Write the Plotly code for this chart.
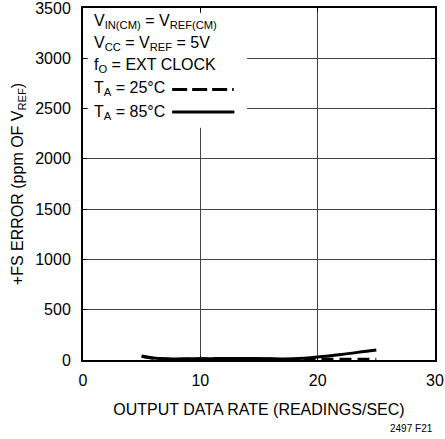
import plotly.graph_objects as go

x_85 = [5, 6, 7, 8, 10, 12, 14, 16, 17, 18, 20, 22, 24, 25]
y_85 = [40, 20, 12, 10, 12, 15, 15, 12, 10, 12, 30, 55, 85, 100]
x_25 = [5, 6, 7, 8, 10, 12, 14, 16, 17, 18, 20, 22, 24, 25]
y_25 = [38, 18, 10, 8, 10, 12, 12, 10, 8, 8, 8, 8, 8, 8]

x_ticks = [0, 10, 20, 30]
y_ticks = [0, 500, 1000, 1500, 2000, 2500, 3000, 3500]

FONT = "Liberation Sans, Arial"

fig = go.Figure()
fig.add_trace(go.Scatter(x=x_25, y=y_25, mode="lines",
                         line=dict(color="black", width=3, dash="12px,6px", shape="spline"), showlegend=False))
fig.add_trace(go.Scatter(x=x_85, y=y_85, mode="lines",
                         line=dict(color="black", width=3, shape="spline"), showlegend=False))

# legend background box (hides grid lines behind the notes)
fig.add_shape(type="rect", xref="paper", yref="paper", x0=0.014, x1=0.466, y0=0.66, y1=0.985,
              fillcolor="white", line=dict(width=0), layer="above")

labels = [
    ("V<sub>IN(CM)</sub> = V<sub>REF(CM)</sub>", 3365),
    ("V<sub>CC</sub> = V<sub>REF</sub> = 5V", 3150),
    ("f<sub>O</sub> = EXT CLOCK", 2925),
    ("T<sub>A</sub> = 25°C", 2695),
    ("T<sub>A</sub> = 85°C", 2465),
]
for txt, yy in labels:
    fig.add_annotation(x=0.8, y=yy, xref="x", yref="y", text=txt, showarrow=False,
                       xanchor="left", yanchor="middle", font=dict(family=FONT, size=16, color="black"))

# legend samples
fig.add_shape(type="line", x0=7.6, x1=12.85, y0=2690, y1=2690, xref="x", yref="y",
              line=dict(color="black", width=3, dash="15px,5px,15px,5px,15px,5px,2px,20px"))
fig.add_shape(type="line", x0=7.6, x1=12.9, y0=2465, y1=2465, xref="x", yref="y",
              line=dict(color="black", width=3))

fig.add_annotation(x=1.0, y=-0.215, xref="paper", yref="paper", text="2497 F21", showarrow=False,
                   xanchor="right", yanchor="bottom", font=dict(family=FONT, size=10, color="black"))

fig.update_layout(
    width=445, height=439,
    margin=dict(l=83, r=10, t=8, b=79),
    plot_bgcolor="white", paper_bgcolor="white",
    font=dict(family=FONT, size=16, color="black"),
    xaxis=dict(range=[0, 30], tickvals=x_ticks, showgrid=True, gridcolor="#444", gridwidth=1,
               showline=True, linecolor="black", linewidth=2, mirror="ticks", ticks="inside",
               ticklen=4, tickcolor="black", zeroline=False, automargin=False, ticklabelstandoff=5,
               ticklabeloverflow="allow",
               title=dict(text="OUTPUT DATA RATE (READINGS/SEC)", standoff=16, font=dict(size=16))),
    yaxis=dict(range=[0, 3500], tickvals=y_ticks, showgrid=True, gridcolor="#444", gridwidth=1,
               showline=True, linecolor="black", linewidth=2, mirror="ticks", ticks="inside",
               ticklen=4, tickcolor="black", zeroline=False, automargin=False, ticklabelstandoff=7,
               ticklabeloverflow="allow",
               title=dict(text="+FS ERROR (ppm OF V<sub>REF</sub>)", standoff=8, font=dict(size=16))),
)

fig.write_html("out.html", post_script="document.body.style.margin='0';",
               config={"displayModeBar": False})
